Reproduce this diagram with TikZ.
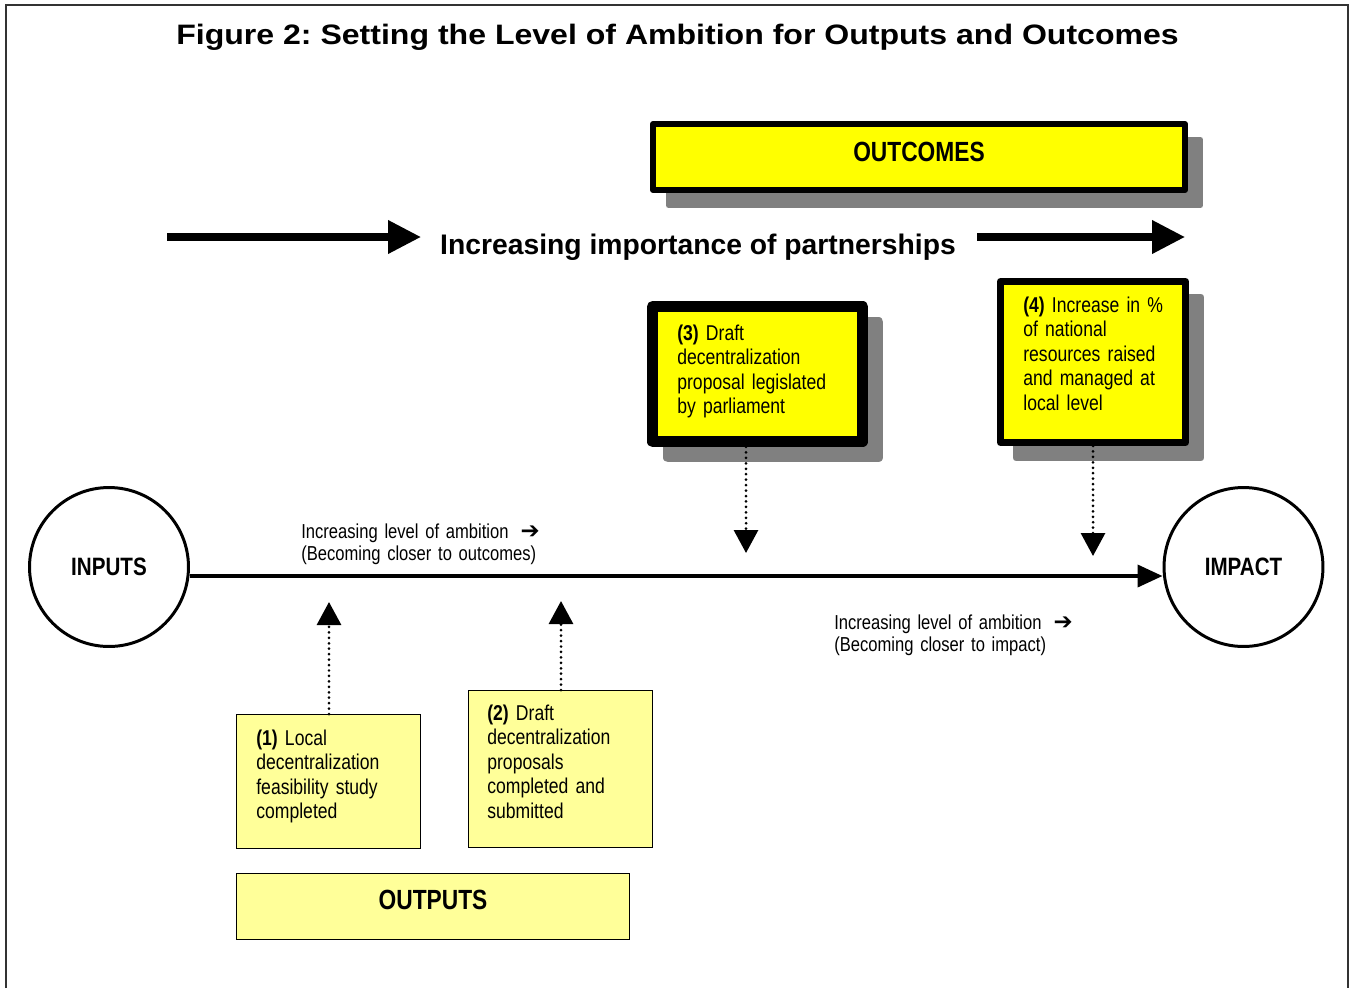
\documentclass[tikz,border=0pt]{standalone}
\usepackage{fontspec}
\setmainfont{Liberation Sans}
\newfontfamily\narrowfont{Liberation Sans}[FakeStretch=0.82]
\newfontfamily\widefont{Liberation Sans}[FakeStretch=1.14]
\newfontfamily\symbfont{DejaVu Sans}
\usetikzlibrary{arrows.meta,shadows}
\definecolor{brightyellow}{RGB}{255,255,0}
\definecolor{paleyellow}{RGB}{255,255,153}
\definecolor{shadowgray}{RGB}{128,128,128}
\newcommand{\ambarrow}{\hspace{0.6em}{\symbfont\bfseries\fontsize{13}{13}\selectfont ➔}}
\frenchspacing

\begin{document}
\begin{tikzpicture}[x=0.02cm,y=-0.02cm,
  outcome/.style={draw=black,fill=brightyellow,line join=round,drop shadow={shadow xshift=0.31cm,shadow yshift=-0.31cm,fill=shadowgray,draw=shadowgray,opacity=1}},
  output/.style={draw=black,line width=0.8pt,fill=paleyellow},
  stage/.style={shape=circle,draw=black,line width=1.7pt,minimum size=3.18cm,font=\narrowfont\bfseries\fontsize{14.3}{16}\selectfont},
  boxtext/.style={anchor=base west,text width=3.6cm,align=left,inner sep=0pt,font=\narrowfont\fontsize{12.2}{14}\selectfont},
  note/.style={anchor=base west,text width=5cm,align=left,inner sep=0pt,font=\narrowfont\fontsize{11.5}{13}\selectfont},
  dotarrow/.style={line width=1.7pt,dash pattern=on 0pt off 3.1pt,line cap=round,-{Triangle[width=0.48cm,length=0.46cm]}},
  bigarrow/.style={line width=4pt,-{Triangle[width=0.64cm,length=0.66cm]}}]
\useasboundingbox (0,0) rectangle (1349,988);
\draw[line width=1pt,black!80] (6,988) -- (6,5) -- (1348,5) -- (1348,988);
\node[anchor=base,font=\widefont\bfseries\fontsize{16}{18}\selectfont] (title) at (677.5,44) {Figure 2: Setting the Level of Ambition for Outputs and Outcomes};
% outcomes
\node[outcome,line width=0.12cm,minimum width=10.64cm,minimum height=1.32cm,text height=0.41cm,text depth=0.23cm,font=\narrowfont\bfseries\fontsize{15.8}{18}\selectfont] (outcomes) at (919,157) {OUTCOMES};
\coordinate (pstartL) at (167,237);
\coordinate (pendL) at (421,237);
\coordinate (pstartR) at (977,237);
\coordinate (pendR) at (1185,237);
\draw[bigarrow] (pstartL) -- (pendL);
\draw[bigarrow] (pstartR) -- (pendR);
\node[anchor=base,font=\bfseries\fontsize{16.1}{18}\selectfont] (partners) at (698,254) {Increasing importance of partnerships};
\node[outcome,line width=0.21cm,minimum width=4.21cm,minimum height=2.71cm] (legis3) at (757.5,374) {};
\node[boxtext] (legis3txt) at (677,340) {{\bfseries (3)} Draft\\decentralization\\proposal legislated\\by parliament};
\node[outcome,line width=0.14cm,minimum width=3.70cm,minimum height=3.22cm] (share4) at (1093,362) {};
\node[boxtext] (share4txt) at (1023,312) {{\bfseries (4)} Increase in \%\\of national\\resources raised\\and managed at\\local level};
% inputs to impact
\node[stage] (inputs) at (109,567) {INPUTS};
\node[stage] (impact) at (1243.5,567) {IMPACT};
\draw[line width=2.2pt,-{Triangle[width=0.44cm,length=0.5cm]}] ([yshift=-0.18cm]inputs.east) -- ([yshift=-0.18cm]impact.west);
\node[note] (ambition1) at (301,538) {Increasing level of ambition\ambarrow\\(Becoming closer to outcomes)};
\node[note] (ambition2) at (834,629) {Increasing level of ambition\ambarrow\\(Becoming closer to impact)};
\coordinate (tip3) at (746,553);
\coordinate (tip4) at (1093,556);
\draw[dotarrow] (legis3.south -| tip3) -- (tip3);
\draw[dotarrow] (share4.south) -- (tip4);
% outputs
\node[output,minimum width=3.67cm,minimum height=2.67cm] (study1) at (328.5,781.5) {};
\node[boxtext] (study1txt) at (256,745) {{\bfseries (1)} Local\\decentralization\\feasibility study\\completed};
\node[output,minimum width=3.67cm,minimum height=3.13cm] (draft2) at (560.5,769) {};
\node[boxtext] (draft2txt) at (487,720) {{\bfseries (2)} Draft\\decentralization\\proposals\\completed and\\submitted};
\coordinate (tip1) at (329,602);
\coordinate (tip2) at (561,601);
\draw[dotarrow] (study1.north -| tip1) -- (tip1);
\draw[dotarrow] (draft2.north -| tip2) -- (tip2);
\node[output,minimum width=7.85cm,minimum height=1.31cm,text height=0.41cm,text depth=0.3cm,font=\narrowfont\bfseries\fontsize{15.8}{18}\selectfont] (outputs) at (433,906.5) {OUTPUTS};
\end{tikzpicture}
\end{document}
